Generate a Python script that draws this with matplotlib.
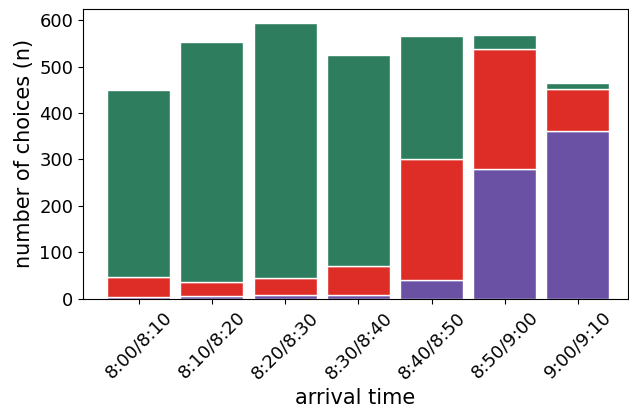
import matplotlib
matplotlib.use("Agg")
import matplotlib.pyplot as plt
import numpy as np

# Time slots and choice counts (stacked)
slots = ["8:00/8:10", "8:10/8:20", "8:20/8:30", "8:30/8:40",
         "8:40/8:50", "8:50/9:00", "9:00/9:10"]
purple_vals = [3, 5, 8, 8, 40, 280, 362]
red_vals = [43, 31, 37, 62, 260, 257, 89]
green_vals = [404, 517, 548, 455, 266, 30, 14]

x = np.arange(len(slots))
bar_width = 0.86

fig, ax = plt.subplots(figsize=(6.29, 4.09), dpi=100)
fig.subplots_adjust(left=0.132, right=0.998, top=0.978, bottom=0.27)

bottom = np.zeros(len(slots))
for vals, color in [(purple_vals, "#6a51a3"), (red_vals, "#de2d26"), (green_vals, "#2e7d5e")]:
    ax.bar(x, vals, bottom=bottom, width=bar_width, color=color,
           edgecolor="white", linewidth=1)
    bottom += np.array(vals)

ax.set_xticks(x)
ax.set_xticklabels(slots, rotation=45, fontsize=13)
ax.tick_params(axis="y", labelsize=13)
ax.set_xlim(-0.76, 6.68)
ax.set_ylim(0, 624)
ax.set_yticks([0, 100, 200, 300, 400, 500, 600])
ax.set_xlabel("arrival time", fontsize=15)
ax.set_ylabel("number of choices (n)", fontsize=15)

fig.savefig("out.png", dpi=100)
